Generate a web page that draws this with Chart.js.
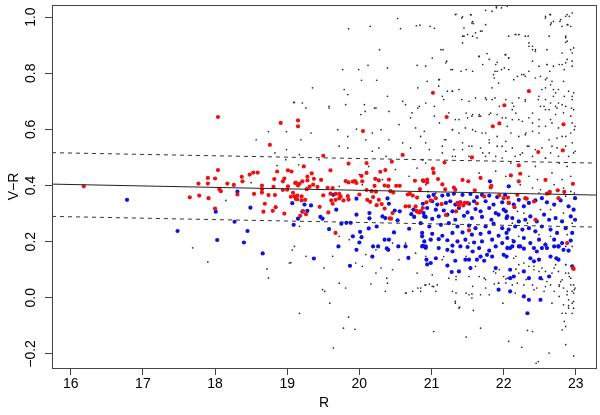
<!DOCTYPE html>
<html>
<head>
<meta charset="utf-8">
<script src="https://cdn.jsdelivr.net/npm/chart.js@4/dist/chart.umd.min.js"></script>
<style>
  html, body { margin: 0; background: #fff; }
</style>
</head>
<body>
<canvas id="chart" width="600" height="415"></canvas>
<script>
// axis ticks
const xTicks = [16, 17, 18, 19, 20, 21, 22, 23];
const yTicks = [-0.2, 0.0, 0.2, 0.4, 0.6, 0.8, 1.0];

// fitted relation and +/- band (R, V-R at both plot edges)
const lineR   = [15.74, 23.28];
const fitVR   = [0.405, 0.366];
const upperVR = [0.517, 0.480];
const lowerVR = [0.290, 0.252];

// red points [R, V-R]
const redPts = [
  [16.18,0.397],[17.65,0.358],[17.77,0.407],[17.78,0.364],[17.90,0.427],[17.90,0.407],[17.91,0.355],[18.00,0.425],
  [18.04,0.455],[18.04,0.644],[18.00,0.318],[18.06,0.387],[18.08,0.380],[18.17,0.407],[18.26,0.402],[18.31,0.368],
  [18.37,0.431],[18.38,0.415],[18.48,0.439],[18.53,0.446],[18.59,0.446],[18.54,0.370],[18.65,0.400],[18.65,0.387],
  [18.65,0.375],[18.74,0.366],[18.83,0.366],[18.69,0.335],[18.67,0.307],[18.84,0.323],[18.80,0.310],[18.96,0.300],
  [18.82,0.423],[18.86,0.450],[18.96,0.425],[19.01,0.454],[19.06,0.450],[18.94,0.415],[19.01,0.397],[18.94,0.384],
  [19.00,0.385],[18.81,0.395],[19.05,0.360],[19.10,0.361],[19.12,0.352],[19.14,0.364],[19.11,0.409],[19.15,0.400],
  [18.76,0.545],[18.91,0.623],[19.15,0.632],[19.15,0.611],
  [20.05,0.594],[19.50,0.506],[20.60,0.509],[19.85,0.478],[20.10,0.480],[20.45,0.485],[19.23,0.468],[19.34,0.443],
  [19.60,0.454],[19.12,0.410],[19.17,0.406],[19.21,0.415],[19.28,0.432],[19.28,0.418],[19.37,0.424],[19.47,0.420],
  [19.36,0.403],[19.42,0.395],[19.31,0.396],[19.27,0.387],[19.56,0.392],[19.63,0.391],[19.50,0.365],[19.60,0.371],
  [19.67,0.370],[19.72,0.370],[19.81,0.416],[19.85,0.411],[19.91,0.414],[19.94,0.416],[19.96,0.409],[20.04,0.415],
  [20.10,0.445],[20.03,0.434],[20.22,0.424],[20.27,0.418],[20.29,0.449],[20.36,0.455],[20.41,0.421],[19.20,0.361],
  [19.08,0.374],[19.14,0.351],[19.20,0.347],[19.25,0.349],[19.18,0.292],[19.26,0.298],[19.22,0.309],[19.45,0.324],
  [19.61,0.347],[19.63,0.335],[19.67,0.349],[19.72,0.354],[19.74,0.361],[19.78,0.347],[19.57,0.304],[19.67,0.231],
  [19.84,0.362],[19.85,0.350],[20.00,0.368],[20.10,0.384],[20.17,0.380],[20.21,0.399],[20.23,0.378],[20.11,0.349],
  [20.15,0.342],[20.19,0.359],[20.24,0.330],[20.27,0.349],[20.35,0.400],[20.40,0.398],[20.43,0.380],[20.51,0.399],
  [20.56,0.399],[20.47,0.375],[20.46,0.302],[20.42,0.283],[20.44,0.282],[20.31,0.334],[20.35,0.318],[20.64,0.326],
  [20.69,0.326],[20.78,0.326],[20.80,0.307],[20.83,0.304],[20.85,0.308],[20.79,0.310],[20.74,0.364],[20.77,0.417],
  [20.80,0.357],[20.89,0.416],[20.94,0.421],[20.67,0.368],[20.70,0.371],
  [22.01,0.686],[21.21,0.644],[21.85,0.611],[21.94,0.621],[22.83,0.618],[22.82,0.525],[22.48,0.519],[21.56,0.500],
  [21.18,0.482],[22.21,0.472],[21.02,0.460],[21.03,0.445],[20.88,0.418],[20.94,0.411],[21.09,0.423],[21.15,0.404],
  [21.19,0.386],[21.31,0.393],[21.33,0.385],[21.43,0.420],[21.51,0.415],[21.68,0.427],[21.60,0.383],[21.83,0.399],
  [21.82,0.393],[21.73,0.361],[21.94,0.365],[22.06,0.357],[22.23,0.442],[22.10,0.436],[22.21,0.415],[22.58,0.420],
  [22.64,0.377],[22.75,0.383],[22.84,0.377],[22.96,0.406],[22.32,0.353],[22.42,0.343],[22.44,0.278],[22.60,0.371],
  [20.84,0.387],[20.93,0.340],[20.99,0.347],[21.06,0.355],[21.14,0.334],[21.20,0.295],[21.34,0.308],[21.36,0.338],
  [21.40,0.339],[21.46,0.338],[21.50,0.338],[21.38,0.328],[21.44,0.329],[21.52,0.240],[21.63,0.336],[22.15,0.323],
  [22.00,0.355],[22.07,0.338],[22.88,0.195],[22.96,0.106],[22.97,0.103],[20.88,0.320],[21.02,0.730],[22.35,0.736],
  [22.19,0.367],[22.30,0.355],[22.63,0.373],[22.76,0.355]
];

// blue points [R, V-R]
const bluePts = [
  [16.78,0.349],[17.48,0.238],[18.01,0.307],[18.03,0.206],[18.27,0.271],[18.31,0.378],[18.40,0.197],[18.45,0.238],
  [18.49,0.321],[18.66,0.158],[19.07,0.337],[19.15,0.282],[19.09,0.260],
  [19.21,0.307],[19.24,0.332],[19.28,0.310],[19.33,0.329],[19.46,0.288],[19.49,0.282],[19.58,0.245],[19.64,0.367],
  [19.68,0.314],[19.71,0.183],[19.37,0.140],[19.75,0.264],[19.82,0.267],[19.88,0.267],[19.91,0.219],[19.96,0.296],
  [19.96,0.353],[19.96,0.171],[20.01,0.235],[20.03,0.216],[20.00,0.197],[19.87,0.114],[20.14,0.302],[20.14,0.283],
  [20.13,0.247],[20.24,0.254],[20.19,0.183],[20.18,0.147],[20.26,0.183],[20.32,0.290],[20.36,0.284],[20.39,0.354],
  [20.41,0.335],[20.35,0.207],[20.38,0.176],[20.40,0.171],[20.41,0.207],[20.49,0.311],[20.56,0.308],[20.48,0.233],
  [20.54,0.183],[20.64,0.183],[20.68,0.142],[20.69,0.246],[20.53,0.276],[20.72,0.298],[20.76,0.288],[20.75,0.314],
  [20.89,0.302],[20.92,0.288],[20.87,0.219],[20.88,0.185],[20.92,0.178],[20.94,0.119],
  [21.81,0.415],[22.07,0.397],
  [20.96,0.361],[21.03,0.367],[21.15,0.364],[21.23,0.367],[21.31,0.371],[21.43,0.367],[21.54,0.370],[21.63,0.359],
  [21.70,0.367],[21.80,0.364],[21.91,0.359],[22.02,0.367],[20.88,0.335],[21.01,0.344],[21.08,0.332],[21.20,0.338],
  [21.26,0.344],[21.33,0.332],[21.40,0.340],[21.52,0.335],[21.59,0.344],[21.75,0.344],[21.86,0.332],[21.98,0.340],
  [20.85,0.308],[20.94,0.320],[21.06,0.314],[21.17,0.311],[21.29,0.308],[21.38,0.320],[21.50,0.304],[21.61,0.316],
  [21.68,0.308],[21.80,0.320],[21.89,0.302],[22.00,0.314],[20.90,0.290],[21.01,0.281],[21.10,0.290],[21.22,0.296],
  [21.33,0.278],[21.45,0.292],[21.56,0.284],[21.70,0.288],[21.83,0.278],[21.93,0.296],[22.04,0.284],[20.85,0.266],
  [20.97,0.254],[21.13,0.260],[21.24,0.266],[21.36,0.254],[21.52,0.257],[21.61,0.248],[21.75,0.254],[21.86,0.264],
  [21.98,0.248],[20.87,0.231],[21.01,0.228],[21.15,0.221],[21.29,0.231],[21.43,0.233],[21.56,0.225],[21.68,0.228],
  [21.80,0.233],[21.93,0.221],[22.04,0.231],[20.90,0.201],[20.99,0.207],[21.10,0.209],[21.22,0.205],[21.36,0.201],
  [21.47,0.207],[21.59,0.197],[21.70,0.201],[21.84,0.207],[21.98,0.195],[20.92,0.183],[21.10,0.177],[21.29,0.186],
  [21.50,0.181],[21.66,0.177],[21.89,0.183],
  [22.03,0.308],[22.07,0.338],[22.14,0.332],[22.21,0.349],[22.28,0.326],[22.35,0.338],[22.44,0.347],[22.53,0.355],
  [22.60,0.340],[22.70,0.332],[22.79,0.347],[22.90,0.326],[22.97,0.314],[22.99,0.355],[22.05,0.290],[22.12,0.284],
  [22.21,0.272],[22.30,0.278],[22.37,0.290],[22.46,0.272],[22.56,0.296],[22.63,0.278],[22.72,0.284],[22.81,0.272],
  [22.93,0.290],[22.99,0.278],[22.07,0.243],[22.16,0.254],[22.26,0.243],[22.35,0.248],[22.44,0.237],[22.53,0.254],
  [22.65,0.243],[22.74,0.231],[22.86,0.248],[22.95,0.231],[22.05,0.213],[22.14,0.201],[22.28,0.213],[22.37,0.195],
  [22.49,0.207],[22.58,0.189],[22.70,0.207],[22.81,0.195],[22.93,0.204],[22.09,0.177],[22.23,0.183],[22.42,0.177],
  [22.60,0.177],[22.76,0.183],
  [20.87,0.183],[20.93,0.136],[20.99,0.124],[21.06,0.141],[21.22,0.171],[21.29,0.165],[21.22,0.115],[21.28,0.092],
  [21.33,0.132],[21.38,0.094],[21.40,0.183],[21.47,0.136],[21.52,0.136],[21.54,0.106],[21.57,0.165],[21.63,0.136],
  [21.68,0.147],[21.73,0.132],[21.77,0.153],[21.80,0.168],[21.84,0.147],[21.89,0.106],[21.93,0.029],[22.00,0.153],
  [22.04,0.147],
  [22.05,0.177],[22.12,0.183],[22.21,0.183],[22.28,0.175],[22.37,0.141],[22.42,0.130],[22.46,0.165],[22.49,0.136],
  [22.53,0.177],[22.65,0.147],[22.70,0.183],[22.73,0.141],[22.76,0.136],[22.83,0.171],[22.90,0.168],[22.95,0.112],
  [22.09,0.100],[22.09,0.070],[22.14,0.076],[22.28,0.094],[22.35,0.070],[22.51,0.070],[22.63,0.076],[22.09,0.023],
  [22.28,0.005],[22.35,-0.007],[22.51,-0.007],[22.33,-0.055],[22.76,0.183]
];

// faint black points [R, V-R]
const blackPts = [
  [17.69,0.178],[17.90,0.128],[18.15,0.347],[18.50,0.410],[18.57,0.563],[18.72,0.103],[18.74,0.071],[18.74,0.592],
  [18.83,0.516],[18.86,0.471],[18.99,0.592],[18.99,0.528],[19.05,0.125],[19.07,0.170],[19.09,0.696],[19.16,0.474],
  [19.85,0.958],[20.15,0.967],[20.53,0.995],[20.57,0.959],[20.79,0.969],[20.84,0.971],[20.98,0.967],[21.04,0.960],
  [21.34,1.010],[21.43,1.001],[21.55,1.008],[21.57,0.984],[21.58,0.977],[21.70,0.950],[21.75,1.024],[21.90,1.036],
  [21.97,1.033],[22.05,1.041],[21.45,0.961],[21.50,0.938],[21.57,0.932],[21.63,0.926],[21.43,0.932],[22.07,0.932],
  [22.17,0.938],[22.21,0.938],[22.34,0.932],[22.35,0.896],[22.40,0.884],[22.44,0.878],[22.60,0.884],[22.58,0.997],
  [22.64,1.009],[22.66,0.979],[22.78,0.985],[22.81,0.967],[22.88,1.009],[22.91,1.003],[22.89,0.973],[22.95,1.015],
  [22.86,0.926],[22.86,0.910],[22.97,0.890],[22.81,0.872],[22.88,0.849],[22.95,0.825],[22.60,0.831],[22.64,0.807],
  [22.60,0.783],[22.67,0.771],[22.77,0.831],[22.81,0.831],[22.84,0.813],[20.28,0.884],[19.77,0.813],[19.99,0.813],
  [20.12,0.828],[20.39,0.819],[20.03,0.775],[20.24,0.775],[20.80,0.828],[20.92,0.825],[21.01,0.854],[21.16,0.884],
  [21.21,0.843],[21.27,0.813],[21.41,0.807],[21.48,0.813],[21.57,0.807],[21.71,0.831],[21.66,0.860],[21.77,0.870],
  [21.91,0.839],[22.02,0.866],[22.07,0.854],[22.01,0.819],[21.88,0.807],[21.97,0.813],[21.87,0.783],[22.14,0.777],
  [22.25,0.795],[22.30,0.789],[22.40,0.843],[22.51,0.789],[20.81,0.748],[20.94,0.771],[21.11,0.777],[21.10,0.754],
  [21.22,0.736],[21.29,0.736],[19.35,0.748],[19.79,0.742],[20.39,0.718],[19.84,0.724],[20.60,0.700],[20.81,0.676],
  [21.04,0.682],[21.15,0.718],[21.42,0.706],[21.52,0.700],[21.57,0.653],[21.66,0.653],[21.76,0.706],[21.84,0.748],
  [21.88,0.712],[21.94,0.682],[22.12,0.694],[22.17,0.658],[22.30,0.700],[22.48,0.706],[22.58,0.748],[22.56,0.682],
  [22.65,0.694],[22.72,0.730],[22.74,0.676],[22.81,0.688],[22.84,0.718],[22.95,0.718],[22.94,0.676],[19.26,0.676],
  [19.58,0.676],[20.08,0.664],[20.21,0.676],[20.73,0.659],
  [19.17,-0.055],[19.52,0.023],[19.59,-0.019],[19.72,0.052],[19.85,-0.069],[19.78,-0.108],[19.94,-0.112],[19.64,-0.179],
  [20.16,0.050],[20.38,0.070],[20.39,0.052],[20.36,0.023],[20.65,0.017],[20.74,0.023],[20.81,0.035],[20.85,0.023],
  [20.91,0.046],[20.97,0.049],[21.06,0.023],[21.08,0.046],[21.03,-0.120],[21.34,0.017],[21.39,-0.033],[21.33,-0.019],
  [21.48,0.017],[21.56,0.014],[21.58,-0.045],[21.68,-0.108],[21.48,-0.140],[21.34,0.076],[21.52,0.076],[21.66,0.076],
  [21.75,0.035],[21.87,0.050],[21.93,0.052],[22.03,0.067],[21.99,-0.019],[22.07,-0.155],[22.16,0.017],[22.21,0.088],
  [22.25,-0.176],[22.33,-0.116],[22.40,-0.120],[22.42,0.029],[22.45,-0.233],[22.48,-0.227],[22.58,0.040],[22.63,-0.197],
  [22.67,0.088],[22.72,0.118],[22.77,0.046],[22.81,0.064],[22.86,0.118],[22.88,0.023],[22.90,-0.007],[22.86,-0.055],
  [22.86,-0.102],[22.81,-0.114],[22.84,-0.084],[22.90,-0.028],[22.95,-0.019],[22.97,-0.207],[22.86,-0.167],[22.91,0.076],
  [22.93,0.046],[22.97,0.017],[22.77,0.005],[22.67,-0.019],[21.94,0.100],[22.17,0.102],[22.35,0.070],[22.12,0.046],
  [22.49,0.094],[22.95,-0.055],
  [19.10,0.696],[19.21,0.694],[19.58,0.682],[19.81,0.688],[20.02,0.653],[20.07,0.688],[20.23,0.676],[20.41,0.664],
  [20.64,0.688],[20.83,0.682],[20.92,0.694],[19.33,0.587],[19.70,0.599],[19.84,0.575],[19.96,0.601],[20.09,0.563],
  [20.18,0.587],[20.30,0.599],[20.41,0.563],[20.55,0.617],[20.71,0.641],[20.78,0.605],[20.85,0.575],[20.92,0.552],
  [20.71,0.534],[20.60,0.552],[20.87,0.492],[20.92,0.480],[20.80,0.462],[20.00,0.439],[20.18,0.522],[20.27,0.534],
  [19.84,0.534],[19.72,0.540],[20.37,0.504],[20.50,0.457],[20.13,0.468],[20.69,0.433],[20.92,0.403],[20.32,0.421],
  [20.04,0.403],[19.72,0.397],[19.19,0.563],[18.98,0.492],[19.17,0.510],[19.44,0.492],[19.10,0.183],[19.03,0.124],
  [19.26,0.148],[19.51,0.106],[19.49,0.029],[19.63,0.148],[20.09,0.154],[20.23,0.171],[20.46,0.195],[20.55,0.136],
  [20.64,0.195],[20.78,0.159],[20.80,0.088],[20.92,0.136],[20.46,0.100],[20.64,0.017],[19.17,0.255],[19.72,0.219],
  [19.86,0.207],[19.95,0.124],[20.04,0.112],[20.23,0.088],[20.30,0.106],[19.81,0.035],
  [20.90,0.593],[21.04,0.647],[21.11,0.623],[21.18,0.563],[21.29,0.599],[21.38,0.635],[21.48,0.658],[21.57,0.599],
  [21.52,0.540],[21.66,0.647],[21.75,0.587],[21.82,0.658],[21.98,0.641],[22.05,0.611],[22.12,0.670],[22.21,0.635],
  [22.31,0.587],[22.40,0.658],[22.49,0.611],[22.58,0.670],[22.65,0.635],[22.72,0.682],[22.81,0.575],[22.93,0.647],
  [22.98,0.599],[20.88,0.492],[20.97,0.528],[21.15,0.516],[21.29,0.504],[21.43,0.528],[21.71,0.516],[21.80,0.552],
  [21.89,0.504],[21.98,0.540],[22.10,0.480],[22.26,0.516],[22.35,0.540],[22.44,0.468],[22.58,0.498],[22.67,0.540],
  [22.77,0.480],[22.88,0.468],[22.97,0.516],[21.66,0.445],[21.89,0.451],[22.03,0.433],[22.35,0.433],[22.47,0.421],
  [22.67,0.445],[22.81,0.421],[22.93,0.433],[20.95,0.379],[21.06,0.373],[22.49,0.373],[22.86,0.362],[22.98,0.373],
  [20.92,0.148],[21.01,0.041],[21.15,0.136],[21.34,0.065],[21.48,0.148],[21.57,0.041],[21.75,0.065],[21.89,0.088],
  [22.03,0.053],[22.17,0.148],[22.31,0.065],[22.42,0.112],[22.54,0.065],[22.65,0.148],[22.77,0.041],[22.86,0.088],
  [22.95,0.112],[22.98,0.029],[20.97,0.207],[21.52,0.195],[22.12,0.207],[22.58,0.195],[22.95,0.183],
  [21.33,1.009],[21.42,0.997],[21.54,1.009],[21.56,0.979],[21.68,0.950],[21.75,0.973],[21.84,1.021],[21.90,1.033],
  [22.05,1.039],[22.16,0.938],[22.21,0.938],[22.30,0.932],[22.35,0.908],[22.40,0.896],[22.44,0.884],[22.58,1.003],
  [22.65,1.009],[22.65,0.973],[22.69,0.985],[22.79,0.991],[22.86,1.003],[22.88,0.973],[22.93,0.967],[22.63,0.932],
  [22.86,0.932],[22.88,0.914],[22.93,0.884],[22.95,0.872],[21.45,0.932],[21.61,0.944],[21.43,0.908],[21.66,0.860],
  [21.80,0.849],[22.03,0.866],[22.07,0.854],[21.89,0.831],[21.91,0.807],[21.86,0.795],[21.93,0.765],[22.07,0.813],
  [22.19,0.789],[22.28,0.795],[22.35,0.807],[22.49,0.825],[22.60,0.831],[22.69,0.825],[22.86,0.837],[22.95,0.843],
  [22.44,0.783],[22.58,0.777],[22.65,0.759],[22.69,0.742],[22.76,0.742],[22.83,0.771],[22.90,0.736],[22.97,0.730],
  [22.53,0.742],[22.49,0.718],[22.58,0.706],[22.69,0.718],[22.76,0.694],[22.86,0.682],[22.95,0.706],[22.97,0.670],
  [22.83,0.659],[22.72,0.653],[22.63,0.670],[22.51,0.682],[22.30,0.706],[22.21,0.712],[22.14,0.682],[22.03,0.706],
  [21.84,0.706],[21.75,0.712],[21.61,0.712],[21.38,0.742],[21.29,0.736],[21.20,0.837],[21.29,0.813],[21.13,0.884],
  [21.10,0.777],[21.17,0.706],[21.24,0.659],[21.33,0.635],[21.50,0.641],[21.56,0.647],[21.68,0.647],[21.80,0.653],
  [21.91,0.653],[22.03,0.641],[22.12,0.635],[22.26,0.629],[22.35,0.641],[22.40,0.623],[22.49,0.635],[22.58,0.611],
  [22.67,0.623],[22.76,0.605],[22.95,0.623],[22.99,0.611],[22.93,0.587],[22.86,0.575],[22.74,0.569],[22.63,0.563],
  [22.49,0.587],[22.40,0.593],[22.30,0.581],[22.21,0.575],[22.10,0.587],[22.03,0.557],[21.91,0.575],[21.80,0.563],
  [21.70,0.587],[21.61,0.593],[21.47,0.605],[21.38,0.587],[21.29,0.599],[21.20,0.563],[21.15,0.540],[21.31,0.528],
  [21.43,0.552],[21.56,0.540],[21.68,0.534],[21.80,0.516],[21.91,0.540],[22.03,0.522],[22.12,0.534],[22.23,0.510],
  [22.33,0.540],[22.44,0.528],[22.53,0.534],[22.65,0.516],[22.74,0.534],[22.86,0.540],[22.95,0.552],[22.99,0.522],
  [22.90,0.504],[22.76,0.504],[22.58,0.498],[22.40,0.504],[22.16,0.504],[21.98,0.498],[21.75,0.504],[21.52,0.504],
  [21.33,0.504],
  [20.85,0.035],[20.92,0.046],[21.03,0.040],[21.29,0.023],[21.33,-0.013],[21.38,-0.037],[21.52,0.011],[21.56,-0.001],
  [21.68,0.011],[21.80,0.011],[21.93,0.052],[22.00,0.076],[22.05,0.070],[21.24,0.070],[21.01,0.082],[21.73,0.070],
  [21.86,0.094],[21.61,0.112],[21.17,0.147],
  [22.14,0.141],[22.21,0.118],[22.28,0.124],[22.35,0.112],[22.42,0.100],[22.53,0.106],[22.58,0.094],[22.70,0.106],
  [22.76,0.094],[22.86,0.118],[22.90,0.088],[22.93,0.070],[22.97,0.046],[22.95,0.023],[22.88,0.011],[22.83,-0.025],
  [22.90,-0.037],[22.97,-0.013],[22.65,0.046],[22.70,0.023],[22.56,0.023],[22.46,0.035],[22.40,0.046],[22.28,0.046],
  [22.19,0.052],[22.60,0.058],[22.79,0.058],[22.83,0.035],[22.99,0.035],[22.81,-0.055],[22.97,-0.037],
  [22.09,0.397],[22.23,0.403],[22.40,0.391],[22.51,0.385],[22.70,0.403],[22.83,0.391],[22.93,0.379],[22.65,0.314],
  [22.51,0.314],[22.28,0.302],[22.19,0.308],[22.83,0.302],[22.95,0.266],[22.12,0.266],[22.33,0.266],[22.49,0.225],
  [22.65,0.219],[22.88,0.225],[22.21,0.219],[22.56,0.189],[22.86,0.183],[22.05,0.183]
];

const toXY = pts => pts.map(p => ({ x: p[0], y: p[1] }));
const linePts = ys => lineR.map((r, i) => ({ x: r, y: ys[i] }));
const fmtY = v => (v < 0 ? '\u2212' : '') + Math.abs(v).toFixed(1);

// R-style box round the plotting region
const boxPlugin = {
  id: 'box',
  afterDraw(chart){
    const a = chart.chartArea, ctx = chart.ctx;
    ctx.save();
    ctx.strokeStyle = '#444';
    ctx.lineWidth = 1;
    ctx.strokeRect(Math.round(a.left) + 0.5, Math.round(a.top) + 0.5,
                   Math.round(a.right - a.left), Math.round(a.bottom - a.top));
    ctx.restore();
  }
};

Chart.defaults.font.family = '"Liberation Sans", Arial, sans-serif';
Chart.defaults.color = '#000';

new Chart(document.getElementById('chart'), {
  type: 'scatter',
  data: {
    datasets: [
      { type:'line', data: linePts(fitVR), borderColor:'#222', borderWidth:1, pointRadius:0, fill:false },
      { type:'line', data: linePts(upperVR), borderColor:'#333', borderWidth:1, borderDash:[4,4], pointRadius:0, fill:false },
      { type:'line', data: linePts(lowerVR), borderColor:'#333', borderWidth:1, borderDash:[4,4], pointRadius:0, fill:false },
      { data: toXY(redPts), backgroundColor:'#ee1111', borderWidth:0, pointRadius:2.1 },
      { data: toXY(bluePts), backgroundColor:'#1010e0', borderWidth:0, pointRadius:2.1 },
      { data: toXY(blackPts), backgroundColor:'#2a2a2a', borderWidth:0, pointRadius:0.85 }
    ]
  },
  options: {
    responsive: false,
    animation: false,
    layout: { padding: { top: 5, right: 3, left: 0, bottom: 0 } },
    plugins: { legend: { display: false }, tooltip: { enabled: false } },
    scales: {
      x: {
        type: 'linear', min: 15.74, max: 23.28,
        afterBuildTicks: s => { s.ticks = xTicks.map(v => ({ value: v })); },
        afterFit: s => { s.height = 47; s.paddingLeft = 0; s.paddingRight = 0; },
        grid: { drawOnChartArea: false, drawTicks: true, tickLength: 7, color: '#444' },
        border: { display: false },
        ticks: { font: { size: 14 }, padding: 1, maxRotation: 0, callback: v => String(v) },
        title: { display: true, text: 'R', font: { size: 14 }, padding: { top: 0, bottom: 3 } }
      },
      y: {
        type: 'linear', min: -0.25, max: 1.043,
        afterBuildTicks: s => { s.ticks = yTicks.map(v => ({ value: v })); },
        afterFit: s => { s.width = 52; s.paddingTop = 0; s.paddingBottom = 0; },
        grid: { drawOnChartArea: false, drawTicks: true, tickLength: 7, color: '#444' },
        border: { display: false },
        ticks: { font: { size: 14 }, padding: 0, crossAlign: 'center', minRotation: 90, maxRotation: 90, callback: v => fmtY(v) },
        title: { display: true, text: 'V\u2212R', font: { size: 14 }, padding: { top: 6, bottom: 0 } }
      }
    }
  },
  plugins: [boxPlugin]
});
</script>
</body>
</html>
